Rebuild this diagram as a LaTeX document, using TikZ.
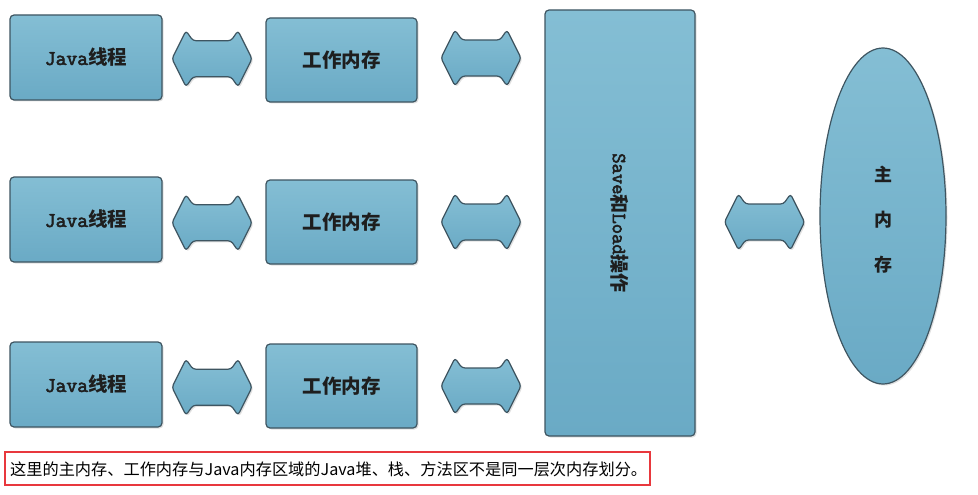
\documentclass[tikz,border=0pt]{standalone}
\usepackage{fontspec}
\setmainfont{Noto Sans CJK SC}
\newfontfamily\cjk{Noto Sans CJK SC}
\newfontfamily\monoraw{Latin Modern Mono}[FakeBold=2.8]
\newcommand\monof{\monoraw\mdseries}
\usetikzlibrary{shapes.geometric,shadows,calc}
\definecolor{boxtop}{HTML}{84BED4}
\definecolor{boxbot}{HTML}{6AAAC5}
\definecolor{boxline}{HTML}{3E5561}
\definecolor{txt}{HTML}{1E1E1E}
\definecolor{redline}{HTML}{E8383D}
\tikzset{
  blockbox/.style={draw=boxline, line width=1.2pt, rounded corners=4pt,
    top color=boxtop, bottom color=boxbot, text=txt,
    font=\cjk\bfseries\fontsize{19.5}{21}\selectfont,
    drop shadow={shadow xshift=1.5pt, shadow yshift=-1.5pt, opacity=0.2, fill=black!60},
    inner sep=0pt},
  dblshape/.style={draw=boxline, line width=1.2pt, rounded corners=3pt,
    top color=boxtop, bottom color=boxbot,
    drop shadow={shadow xshift=1.5pt, shadow yshift=-1.5pt, opacity=0.2, fill=black!60}},
  pics/dblarrow/.style={code={
    \path[dblshape] (-40,0) -- (-26,-28) -- (-19,-18) -- (19,-18) -- (26,-28)
      -- (40,0) -- (26,28) -- (19,18) -- (-19,18) -- (-26,28) -- cycle;
  }}
}
\begin{document}
\begin{tikzpicture}[x=1pt,y=-1pt]
\useasboundingbox (0,0) rectangle (978,495);
% Java thread boxes
\node[blockbox, minimum width=152pt, minimum height=85pt] (j1) at (86,57.5) {{\monof\fontsize{21}{21}\selectfont Java}线程};
\node[blockbox, minimum width=152pt, minimum height=85pt] (j2) at (86,219.5) {{\monof\fontsize{21}{21}\selectfont Java}线程};
\node[blockbox, minimum width=152pt, minimum height=85pt] (j3) at (86,384.5) {{\monof\fontsize{21}{21}\selectfont Java}线程};
% working memory boxes
\node[blockbox, minimum width=151pt, minimum height=84pt] (w1) at (341.5,60) {工作内存};
\node[blockbox, minimum width=151pt, minimum height=84pt] (w2) at (341.5,222) {工作内存};
\node[blockbox, minimum width=151pt, minimum height=84pt] (w3) at (341.5,386) {工作内存};
% save and load
\node[blockbox, minimum width=150pt, minimum height=426pt] (sl) at (620,223) {};
\node[rotate=-90, text=txt, font=\cjk\bfseries\fontsize{19}{20}\selectfont] (slt) at (sl.center) {{\monof\fontsize{20}{20}\selectfont Save}和{\monof\fontsize{20}{20}\selectfont Load}操作};
% main memory
\node[blockbox, ellipse, minimum width=126pt, minimum height=336pt] (mm) at (883,216) {};
\node[text=txt, font=\cjk\bfseries\fontsize{18}{20}\selectfont, align=center] (mmt) at ([yshift=-4pt]mm.center) {主\\[25pt]内\\[25pt]存};
% double arrows
\pic at ($(j1.east)!0.5!(w1.west)+(-2,0)$) {dblarrow};
\pic at ($(j2.east)!0.5!(w2.west)+(-2,2)$) {dblarrow};
\pic at ($(j3.east)!0.5!(w3.west)+(-2,2)$) {dblarrow};
\pic at ($(w1.east)!0.5!(w1.east -| sl.west)+(0,-2)$) {dblarrow};
\pic at ($(w2.east)!0.5!(w2.east -| sl.west)$) {dblarrow};
\pic at ($(w3.east)!0.5!(w3.east -| sl.west)$) {dblarrow};
\pic at ($(sl.east |- mm.center)!0.5!(mm.west)+(7,6)$) {dblarrow};
% caption
\node[draw=redline, line width=2pt, minimum width=645pt, minimum height=33pt, inner sep=0pt] (capbox) at (327.5,468.5) {};
\node[anchor=west, inner sep=0pt, font=\cjk\fontsize{16.2}{18}\selectfont, text=black] (cap) at (10,469)
  {这里的主内存、工作内存与Java内存区域的Java堆、栈、方法区不是同一层次内存划分。};
\end{tikzpicture}
\end{document}
